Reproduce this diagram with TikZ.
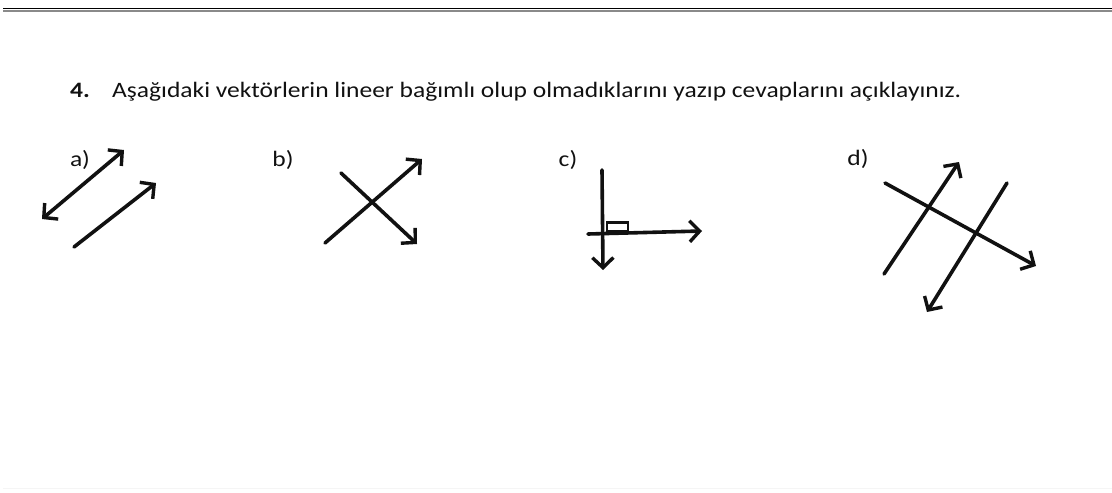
\documentclass[tikz,border=0pt]{standalone}
\usepackage{fontspec}
\setmainfont{Carlito}
\usepackage{tikz}
\usetikzlibrary{arrows.meta}
\definecolor{inkblack}{HTML}{111111}
\definecolor{rulegray}{HTML}{8A8A8A}

\begin{document}
\begin{tikzpicture}[x=1pt, y=-1pt,
    vec/.style={draw=inkblack, line width=3.6pt, line cap=round,
      -{Straight Barb[length=10pt, width=21pt, line width=3.4pt]}},
    twovec/.style={vec, {Straight Barb[length=10pt, width=21pt, line width=3.4pt]}-{Straight Barb[length=10pt, width=21pt, line width=3.4pt]}},
    lbl/.style={font=\fontsize{22}{26}\selectfont, text=inkblack, inner sep=0pt, anchor=base}]
  \useasboundingbox (0,0) rectangle (1112,493);
  % top rules
  \draw[line width=1.6pt, black] (3,8.5) -- (1112,8.5);
  \draw[line width=1.8pt, rulegray] (3,11.3) -- (1112,11.3);
  \draw[line width=0.8pt, black!4] (3,488) -- (1112,488);
  % question
  \node[lbl, anchor=base west] (num) at (70,97) {\scalebox{1.16}[1]{\textbf{4.}}};
  \node[lbl, anchor=base west] (question) at (112,97)
    {\scalebox{1.16}[1]{Aşağıdaki vektörlerin lineer bağımlı olup olmadıklarını yazıp cevaplarını açıklayınız.}};
  % a)
  \node[lbl] (la) at (80,166) {\scalebox{1.16}[1]{a)}};
  \coordinate (a1) at (42,219);  \coordinate (a2) at (124,150);
  \coordinate (a3) at (74,247);  \coordinate (a4) at (156,183);
  \draw[twovec] (a1) -- (a2);
  \draw[vec] (a3) -- (a4);
  % b)
  \node[lbl] (lb) at (283,166) {\scalebox{1.16}[1]{b)}};
  \coordinate (b1) at (325,243); \coordinate (b2) at (422,159);
  \coordinate (b3) at (341,173); \coordinate (b4) at (417,244);
  \draw[vec] (b1) -- (b2);
  \draw[vec] (b3) -- (b4);
  % c)
  \node[lbl] (lc) at (568,166) {\scalebox{1.16}[1]{c)}};
  \coordinate (c1) at (602,170); \coordinate (c2) at (603,270);
  \coordinate (c3) at (588,234); \coordinate (c4) at (702,231);
  \draw[vec] (c1) -- (c2);
  \draw[vec] (c3) -- (c4);
  \draw[draw=inkblack, line width=2.6pt] (607,222.5) rectangle (628,231);
  % d)
  \node[lbl] (ld) at (858,165) {\scalebox{1.16}[1]{d)}};
  \coordinate (d1) at (885,183);  \coordinate (d2) at (1036,266);
  \coordinate (d3) at (884,274);  \coordinate (d4) at (959,162);
  \coordinate (d5) at (1007,183); \coordinate (d6) at (927,312);
  \draw[vec] (d1) -- (d2);
  \draw[vec] (d3) -- (d4);
  \draw[vec] (d5) -- (d6);
\end{tikzpicture}
\end{document}
